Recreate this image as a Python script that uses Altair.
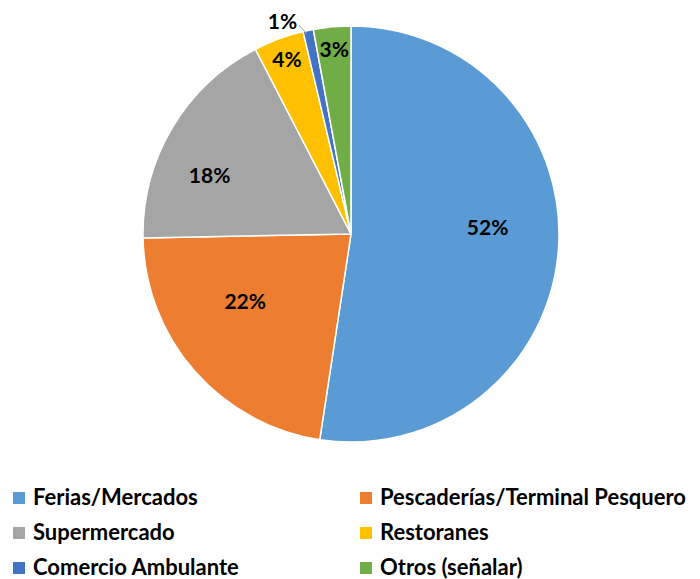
import altair as alt
import pandas as pd

categories = ["Ferias/Mercados", "Pescaderías/Terminal Pesquero", "Supermercado",
              "Restoranes", "Comercio Ambulante", "Otros (señalar)"]
values = [52.4, 22.3, 17.7, 3.9, 0.8, 2.9]
labels = ["52%", "22%", "18%", "4%", "1%", "3%"]
colors = ["#5B9BD5", "#ED7D31", "#A5A5A5", "#FFC000", "#4472C4", "#70AD47"]

# legend fills column by column: reorder so rows read as in the reference
legend_order = [0, 2, 4, 1, 3, 5]
leg_domain = [categories[i] for i in legend_order]
leg_range = [colors[i] for i in legend_order]

df = pd.DataFrame({
    "cat": categories,
    "value": values,
    "label": labels,
    "order": list(range(len(categories))),
})

CX, CY, R = 343, 226, 208
FONT = "Lato"

base = alt.Chart(df).encode(
    theta=alt.Theta("value:Q", stack=True),
    order=alt.Order("order:Q", sort="ascending"),
    x=alt.value(CX),
    y=alt.value(CY),
)

pie = base.mark_arc(radius=R, stroke="white", strokeWidth=1.5).encode(
    color=alt.Color(
        "cat:N",
        scale=alt.Scale(domain=leg_domain, range=leg_range),
        legend=alt.Legend(
            title=None,
            orient="none",
            legendX=0,
            legendY=479,
            padding=0,
            columns=2,
            columnPadding=115,
            rowPadding=13,
            symbolType="square",
            symbolSize=144,
            symbolStrokeWidth=0,
            labelFont=FONT,
            labelFontSize=22,
            labelFontWeight="bold",
            labelColor="#000000",
            labelOffset=3,
            labelLimit=400,
        ),
    )
)

txt_style = dict(font=FONT, fontSize=21, fontWeight="bold", color="#000000",
                 align="center", baseline="middle")


def label_layer(cat, radius, dx=0, dy=0):
    return base.mark_text(radius=radius, dx=dx, dy=dy, **txt_style).encode(
        text=alt.condition(alt.datum.cat == cat, "label:N", alt.value(""))
    )


layers = [
    label_layer(categories[0], 137, 0, -15),
    label_layer(categories[1], 126, -11, -14),
    label_layer(categories[2], 153, -10, 21),
    label_layer(categories[3], 184),
    label_layer(categories[4], 226, -22, 10),
    label_layer(categories[5], 184),
]

leader = alt.Chart(pd.DataFrame({"k": [0]})).mark_rule(
    color="#A5A5A5", strokeWidth=1
).encode(
    x=alt.value(291), y=alt.value(17), x2=alt.value(299), y2=alt.value(26)
)

chart = alt.layer(pie, *layers, leader).properties(
    width=684, height=571, autosize=alt.AutoSizeParams(type="none"), padding=0
).configure_view(stroke=None)

chart.save("out.html", embed_options={"renderer": "svg", "actions": False})
